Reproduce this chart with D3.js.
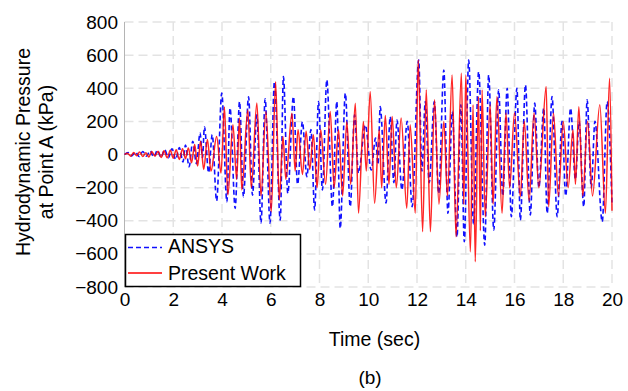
<!DOCTYPE html>
<html>
<head>
<meta charset="utf-8">
<script src="https://cdn.jsdelivr.net/npm/d3@7"></script>
<style>
  body { margin: 0; background: #fff; }
  text { font-family: "Liberation Sans", Arial, sans-serif; }
</style>
</head>
<body>
<div id="chart"></div>
<script>
// ------------------- //
// DATA (peaks / troughs)
// ------------------- //

var ansysT = [0.00,0.15,0.30,0.45,0.60,0.75,0.90,1.05,1.20,1.35,1.50,1.65,1.80,1.95,2.10,2.25,2.40,2.50,2.65,2.80,
  2.95,3.10,3.20,3.28,3.45,3.60,3.78,3.99,4.20,4.33,4.54,4.72,4.88,5.09,5.25,5.43,5.60,5.77,5.97,6.15,
  6.39,6.52,6.70,6.93,7.10,7.30,7.48,7.65,7.80,7.96,8.12,8.30,8.53,8.71,8.85,9.06,9.26,9.44,9.60,9.88,
  10.12,10.30,10.40,10.49,10.73,10.90,11.05,11.18,11.38,11.60,11.80,12.07,12.20,12.34,12.50,12.71,12.89,13.10,13.27,13.45,
  13.64,13.80,13.94,14.12,14.32,14.53,14.78,14.94,15.15,15.35,15.52,15.70,15.87,16.10,16.24,16.45,16.65,16.83,17.00,17.20,
  17.34,17.54,17.75,17.95,18.10,18.30,18.50,18.65,18.84,18.98,19.15,19.30,19.60,19.80,20.00]
var ansysP = [0,12,-8,15,-12,18,-10,22,-15,25,-18,30,-20,35,-30,42,-45,57,-74,80,
  -55,130,-20,168,-110,120,-280,371,-285,281,-325,319,-255,349,-245,239,-414,336,-414,440,
  -396,470,-234,350,-180,198,-134,150,-335,319,-214,450,-315,319,-446,370,-315,239,-112,178,
  -94,100,-60,289,-293,228,-170,208,-214,200,-315,571,-100,319,-170,319,-235,510,-355,260,
  -497,300,-527,571,-420,500,-547,480,-456,390,-250,400,-376,400,-396,420,-365,310,-200,280,
  -355,350,-376,200,-250,280,-150,200,-315,330,-200,200,-406,319,-300]

var presentT = [0.00,0.12,0.25,0.38,0.50,0.62,0.75,0.88,1.00,1.12,1.25,1.38,1.50,1.62,1.75,1.88,2.00,2.12,2.25,2.38,
  2.50,2.62,2.75,2.88,3.00,3.12,3.25,3.40,3.55,3.78,3.96,4.10,4.24,4.45,4.60,4.72,4.81,5.06,5.20,5.43,
  5.60,5.80,6.02,6.20,6.35,6.50,6.62,6.87,7.00,7.12,7.30,7.45,7.60,7.75,7.90,8.05,8.25,8.44,8.60,8.78,
  8.95,9.12,9.28,9.47,9.60,9.80,9.92,10.08,10.26,10.45,10.55,10.70,10.85,10.98,11.15,11.35,11.58,11.72,11.93,12.05,
  12.23,12.38,12.55,12.72,12.90,13.10,13.25,13.44,13.60,13.82,13.92,14.00,14.19,14.30,14.39,14.52,14.60,14.67,14.80,15.00,
  15.12,15.28,15.49,15.65,15.80,16.00,16.24,16.40,16.60,16.80,17.00,17.30,17.40,17.60,17.80,18.00,18.20,18.40,18.50,18.64,
  18.80,19.00,19.20,19.50,19.73,19.90,20.00]
var presentP = [0,8,-10,12,-8,15,-12,10,-15,18,-10,20,-18,22,-20,25,-22,28,-30,35,
  -25,40,-50,60,-70,80,-90,90,-100,108,-112,287,-245,180,-150,220,-214,269,-200,311,
  -250,260,-345,440,-275,108,-150,249,-100,150,-120,140,-90,120,-200,150,-180,259,-200,150,
  -250,198,-180,309,-355,200,-100,380,-295,150,-200,235,-180,230,-200,220,-325,180,-355,571,
  -466,390,-466,330,-300,200,-250,480,-497,490,-300,480,-587,300,-648,350,-460,390,-376,300,
  -300,350,-355,250,-200,250,-255,200,-280,250,-200,410,-315,250,-250,200,-200,150,-180,289,
  -250,200,-250,300,-355,460,-340]

var xTicks = [0, 2, 4, 6, 8, 10, 12, 14, 16, 18, 20]
var yTicks = [-800, -600, -400, -200, 0, 200, 400, 600, 800]
var seriesNames = ["ANSYS", "Present Work"]

// ------------------- //
// SVG AND SCALES
// ------------------- //

var W = 628, H = 391
var plot = {left: 124.5, right: 612, top: 22, bottom: 287}

var svg = d3.select("#chart")
  .append("svg")
    .attr("width", W)
    .attr("height", H)

var x = d3.scaleLinear().domain([0, 20]).range([plot.left, plot.right])
var y = d3.scaleLinear().domain([-800, 800]).range([plot.bottom, plot.top])

// grid lines
svg.append("g")
  .selectAll("line.vgrid")
  .data(xTicks.slice(1))
  .enter()
  .append("line")
    .attr("x1", function(d){ return x(d) })
    .attr("x2", function(d){ return x(d) })
    .attr("y1", plot.top)
    .attr("y2", plot.bottom)
    .attr("stroke", "#e3e3e3")
    .attr("stroke-width", 1.5)
    .attr("stroke-dasharray", "9,5")

svg.append("g")
  .selectAll("line.hgrid")
  .data(yTicks)
  .enter()
  .append("line")
    .attr("x1", plot.left)
    .attr("x2", plot.right)
    .attr("y1", function(d){ return y(d) })
    .attr("y2", function(d){ return y(d) })
    .attr("stroke", function(d){ return d == 0 ? "#a8a8a8" : "#e3e3e3" })
    .attr("stroke-width", function(d){ return d == 0 ? 1 : 1.5 })
    .attr("stroke-dasharray", function(d){ return d == 0 ? null : "9,5" })

// left axis line
svg.append("line")
  .attr("x1", plot.left).attr("x2", plot.left)
  .attr("y1", plot.top).attr("y2", plot.bottom)
  .attr("stroke", "#b4b4b4")
  .attr("stroke-width", 1)

// axes (labels only)
var xAxis = svg.append("g")
  .attr("transform", "translate(0," + plot.bottom + ")")
  .call(d3.axisBottom(x).tickValues(xTicks).tickSize(0).tickPadding(6))
var yAxis = svg.append("g")
  .attr("transform", "translate(" + plot.left + ",0)")
  .call(d3.axisLeft(y).tickValues(yTicks).tickSize(0).tickPadding(6.5))

xAxis.select(".domain").remove()
yAxis.select(".domain").remove()
svg.selectAll(".tick text")
  .style("font-size", "19px")
  .style("font-family", "'Liberation Sans', Arial, sans-serif")
  .attr("fill", "#000")

// ------------------- //
// LINES
// ------------------- //

var line = d3.line()
  .x(function(d){ return x(d[0]) })
  .y(function(d){ return y(d[1]) })
  .curve(d3.curveMonotoneX)

var ansys = ansysT.map(function(t, i){ return [t, ansysP[i]] })
var present = presentT.map(function(t, i){ return [t, presentP[i]] })

svg.append("path")
  .datum(ansys)
  .attr("d", line)
  .attr("fill", "none")
  .attr("stroke", "#1010ff")
  .attr("stroke-width", 1.6)
  .attr("stroke-dasharray", "5,3")

svg.append("path")
  .datum(present)
  .attr("d", line)
  .attr("fill", "none")
  .attr("stroke", "#ff0000")
  .attr("stroke-width", 1.5)
  .attr("opacity", 0.85)

// ------------------- //
// LEGEND
// ------------------- //

var legend = svg.append("g")
legend.append("rect")
  .attr("x", 125.5).attr("y", 234.5)
  .attr("width", 175).attr("height", 52)
  .attr("fill", "#fff")
  .attr("stroke", "#000")
  .attr("stroke-width", 1.5)

legend.append("line")
  .attr("x1", 128).attr("x2", 162).attr("y1", 247.5).attr("y2", 247.5)
  .attr("stroke", "#1010ff").attr("stroke-width", 1.6).attr("stroke-dasharray", "5,3")
legend.append("line")
  .attr("x1", 128).attr("x2", 162).attr("y1", 273).attr("y2", 273)
  .attr("stroke", "#ff0000").attr("stroke-width", 1.5)

legend.selectAll("text")
  .data(seriesNames)
  .enter()
  .append("text")
    .attr("x", 168)
    .attr("y", function(d, i){ return 253 + i * 27 })
    .text(function(d){ return d })
    .style("font-size", "19.5px")

// ------------------- //
// TITLES
// ------------------- //

svg.append("text")
  .attr("transform", "translate(30,152) rotate(-90)")
  .attr("text-anchor", "middle")
  .style("font-size", "19.5px")
  .text("Hydrodynamic Pressure")
svg.append("text")
  .attr("transform", "translate(53,152) rotate(-90)")
  .attr("text-anchor", "middle")
  .style("font-size", "19.5px")
  .text("at Point A (kPa)")

svg.append("text")
  .attr("x", 374.5)
  .attr("y", 346)
  .attr("text-anchor", "middle")
  .style("font-size", "19.5px")
  .text("Time (sec)")

svg.append("text")
  .attr("x", 370)
  .attr("y", 384)
  .attr("text-anchor", "middle")
  .style("font-size", "19px")
  .text("(b)")
</script>
</body>
</html>
